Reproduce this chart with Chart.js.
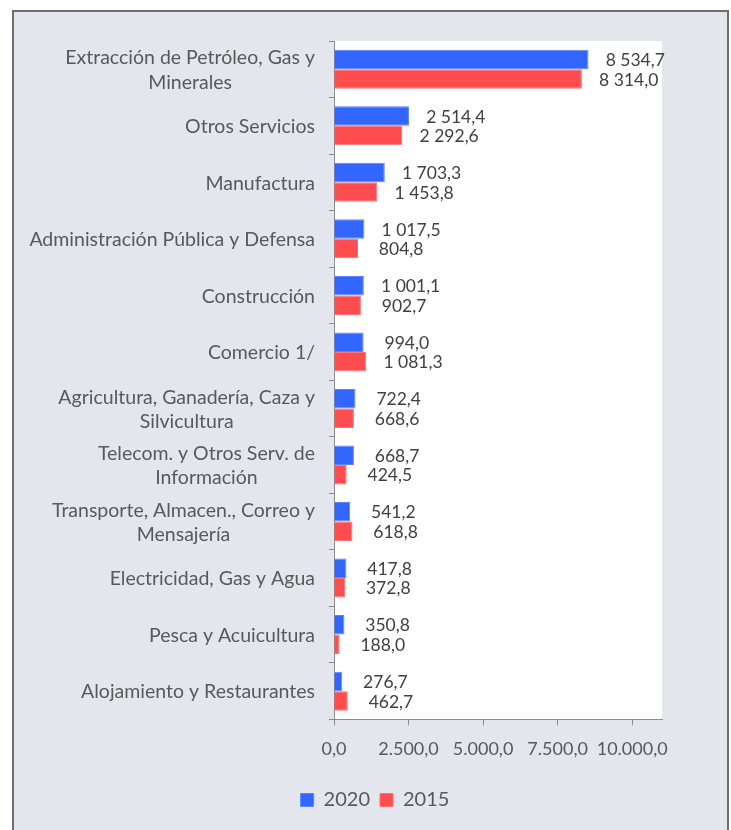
<!DOCTYPE html>
<html>
<head>
<meta charset="utf-8">
<script src="https://cdn.jsdelivr.net/npm/chart.js@4.4.1/dist/chart.umd.min.js"></script>
<style>
    body { margin: 0; background: #ffffff; }
    #frame {
        position: absolute; left: 12px; top: 10px;
        width: 717px; height: 830px;
        box-sizing: border-box;
        border: 2px solid #6e6e6e;
        background: #e3e6ed;
    }
    #chart-wrap { position: absolute; left: 0; top: 0; width: 713px; height: 818px; }
</style>
</head>
<body>
<div id="frame">
    <div id="chart-wrap"><canvas id="sectores-chart"></canvas></div>
</div>
<script>
var categories = [
    ['Extracción de Petróleo, Gas y', 'Minerales'],
    'Otros Servicios',
    'Manufactura',
    'Administración Pública y Defensa',
    'Construcción',
    'Comercio 1/',
    ['Agricultura, Ganadería, Caza y', 'Silvicultura'],
    ['Telecom. y Otros Serv. de', 'Información'],
    ['Transporte, Almacen., Correo y', 'Mensajería'],
    'Electricidad, Gas y Agua',
    'Pesca y Acuicultura',
    'Alojamiento y Restaurantes'
];
var values2020 = [8534.7, 2514.4, 1703.3, 1017.5, 1001.1, 994.0, 722.4, 668.7, 541.2, 417.8, 350.8, 276.7];
var values2015 = [8314.0, 2292.6, 1453.8, 804.8, 902.7, 1081.3, 668.6, 424.5, 618.8, 372.8, 188.0, 462.7];
var seriesNames = ['2020', '2015'];
var xTickValues = [0, 2500, 5000, 7500, 10000];
var axisMax = 11000;

var FONT = 'Lato, "Open Sans", sans-serif';

function groupDigits(intPart, sep) {
    return intPart.replace(/\B(?=(\d{3})+(?!\d))/g, sep);
}

// 8534.7 -> "8 534,7"
function fmtLabel(v) {
    var parts = v.toFixed(1).split('.');
    return groupDigits(parts[0], ' ') + ',' + parts[1];
}

// 2500 -> "2.500,0"
function fmtTick(v) {
    var parts = Number(v).toFixed(1).split('.');
    return groupDigits(parts[0], '.') + ',' + parts[1];
}

var plotBackground = {
    id: 'plotBackground',
    beforeDraw: function (chart) {
        var a = chart.chartArea;
        var ctx = chart.ctx;
        ctx.save();
        ctx.fillStyle = '#ffffff';
        ctx.fillRect(a.left, a.top, a.right - a.left, a.bottom - a.top);
        ctx.restore();
    }
};

// category labels: block right aligned, lines centred inside the block
var categoryLabels = {
    id: 'categoryLabels',
    afterDraw: function (chart) {
        var ctx = chart.ctx;
        var yScale = chart.scales.y;
        var right = chart.chartArea.left - 19;
        var lh = 24.4;
        ctx.save();
        ctx.font = '19.5px ' + FONT;
        ctx.fillStyle = '#595959';
        ctx.textAlign = 'center';
        ctx.textBaseline = 'middle';
        categories.forEach(function (label, j) {
            var lines = Array.isArray(label) ? label : [label];
            var w = 0;
            lines.forEach(function (l) { w = Math.max(w, ctx.measureText(l).width); });
            var cx = right - w / 2;
            var yc = yScale.getPixelForValue(j) + 1;
            lines.forEach(function (l, k) {
                ctx.fillText(l, cx, yc + (k - (lines.length - 1) / 2) * lh);
            });
        });
        ctx.restore();
    }
};

var barValueLabels = {
    id: 'barValueLabels',
    afterDatasetsDraw: function (chart) {
        var ctx = chart.ctx;
        ctx.save();
        ctx.font = '17.5px ' + FONT;
        ctx.fillStyle = '#404040';
        ctx.textAlign = 'left';
        ctx.textBaseline = 'middle';
        chart.data.datasets.forEach(function (ds, i) {
            var meta = chart.getDatasetMeta(i);
            meta.data.forEach(function (bar, j) {
                var txt = fmtLabel(ds.data[j]);
                var w = ctx.measureText(txt).width;
                ctx.fillText(txt, bar.x + 32 - 0.25 * w, bar.y + 1);
            });
        });
        ctx.restore();
    }
};

var ctx = document.getElementById('sectores-chart');
var SectoresChart = new Chart(ctx, {
    type: 'bar',
    data: {
        labels: categories,
        datasets: [
            {
                label: seriesNames[0],
                data: values2020,
                backgroundColor: '#3366ff',
                borderColor: '#5a84ff',
                borderWidth: 1,
                categoryPercentage: 0.69,
                barPercentage: 1.0
            },
            {
                label: seriesNames[1],
                data: values2015,
                backgroundColor: '#ff4d4f',
                borderColor: '#ff7375',
                borderWidth: 1,
                categoryPercentage: 0.69,
                barPercentage: 1.0
            }
        ]
    },
    plugins: [plotBackground, barValueLabels, categoryLabels],
    options: {
        indexAxis: 'y',
        responsive: true,
        maintainAspectRatio: false,
        devicePixelRatio: 1,
        animation: false,
        layout: {
            padding: { left: 74, right: 65, top: 29, bottom: 10 }
        },
        plugins: {
            tooltip: { enabled: false },
            legend: {
                position: 'bottom',
                labels: {
                    boxWidth: 13,
                    boxHeight: 13,
                    padding: 10,
                    color: '#595959',
                    font: { family: FONT, size: 20 }
                }
            }
        },
        scales: {
            x: {
                min: 0,
                max: axisMax,
                ticks: {
                    autoSkip: false,
                    padding: 13,
                    color: '#595959',
                    font: { family: FONT, size: 18 },
                    maxRotation: 0,
                    callback: function (v) { return fmtTick(v); }
                },
                // chart.js would spread the ticks evenly up to max, so put them back on 2.500 steps
                afterBuildTicks: function (scale) {
                    scale.ticks = xTickValues.map(function (v) { return { value: v }; });
                },
                afterFit: function (scale) {
                    scale.height = scale.height + 7;
                },
                grid: {
                    drawOnChartArea: false,
                    tickLength: 6,
                    color: '#8c8c8c'
                },
                border: { color: '#8c8c8c', width: 1 }
            },
            y: {
                ticks: { display: false },
                afterFit: function (scale) {
                    scale.width = 246;
                },
                grid: {
                    drawOnChartArea: false,
                    offset: true,
                    tickLength: 5,
                    color: '#8c8c8c'
                },
                border: { color: '#8c8c8c', width: 1 }
            }
        }
    }
});
</script>
</body>
</html>
